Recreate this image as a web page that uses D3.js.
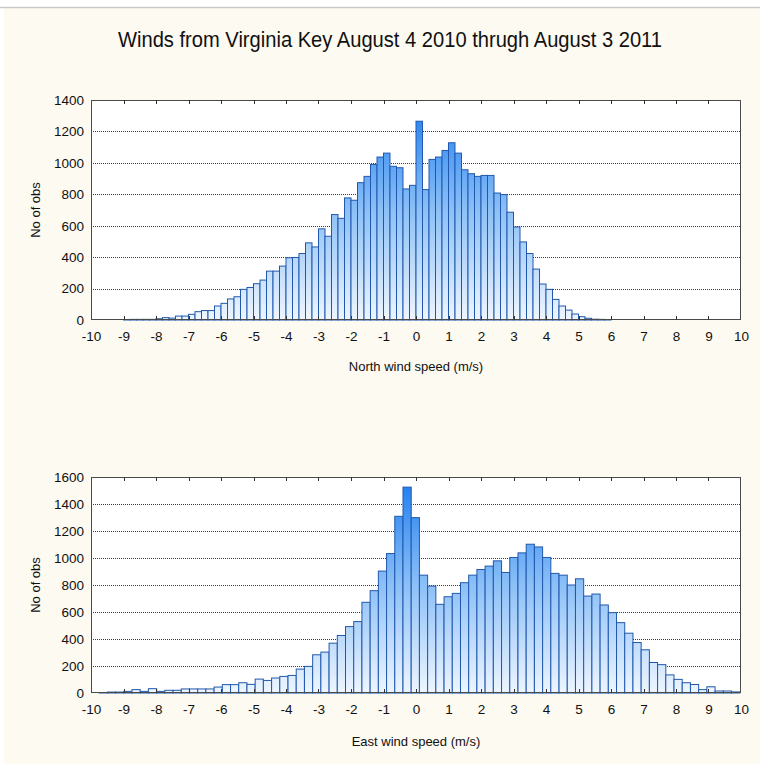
<!DOCTYPE html>
<html><head><meta charset="utf-8">
<script src="https://cdn.jsdelivr.net/npm/d3@7"></script>
<style>body{margin:0;background:#fff}svg{display:block}</style>
</head><body><svg id="c" width="760" height="764"></svg>
<script>
// ---------- DATA ----------
const titleText = "Winds from Virginia Key August 4 2010 thrugh August 3 2011";
const yLabel = "No of obs";
const northLabel = "North wind speed (m/s)";
const eastLabel = "East wind speed (m/s)";

// North: bins of 0.2 m/s starting at -9.0
const northStart = -9.0, northWidth = 0.2;
const northCounts = [
  1, 4, 4, 4, 4, 8, 15, 12, 25, 25,
  36, 53, 60, 60, 89, 106, 134, 148, 195, 207,
  231, 254, 311, 311, 343, 396, 398, 423, 491, 465,
  580, 533, 671, 647, 777, 762, 874, 914, 990, 1037,
  1062, 978, 969, 834, 857, 1265, 830, 1022, 1037, 1079,
  1128, 1062, 956, 931, 914, 920, 920, 808, 798, 686,
  592, 497, 423, 324, 229, 195, 131, 89, 63, 38,
  21, 11, 5, 4, 3
];

// East: bins of ~0.253 m/s starting at -9.75
const eastStart = -9.75, eastWidth = 0.2527;
const eastCounts = [
  2, 7, 7, 12, 25, 12, 32, 12, 20, 20,
  30, 30, 30, 30, 44, 62, 62, 76, 64, 103,
  93, 111, 123, 130, 177, 197, 283, 303, 369, 426,
  492, 529, 672, 758, 903, 1033, 1309, 1525, 1299, 873,
  792, 657, 713, 738, 817, 873, 915, 940, 979, 893,
  1004, 1038, 1102, 1082, 1004, 886, 873, 800, 846, 718,
  733, 652, 595, 521, 443, 374, 320, 226, 210, 134,
  101, 76, 63, 25, 46, 15, 15, 8
];

const xTickValues = [-10,-9,-8,-7,-6,-5,-4,-3,-2,-1,0,1,2,3,4,5,6,7,8,9,10];
const northYTicks = [0,200,400,600,800,1000,1200,1400];
const eastYTicks = [0,200,400,600,800,1000,1200,1400,1600];

// ---------- DRAW ----------
const svg = d3.select("#c");
const FONT = "'Liberation Sans', Arial, sans-serif";

svg.append("rect").attr("width",760).attr("height",764).attr("fill","#ffffff");
svg.append("rect").attr("x",4).attr("y",8).attr("width",756).attr("height",756).attr("fill","#fdfaf1");
svg.append("line").attr("x1",0).attr("x2",760).attr("y1",7.5).attr("y2",7.5)
   .attr("stroke","#c9c9c9").attr("stroke-width",1.5);

svg.append("text").attr("x",390).attr("y",47).attr("text-anchor","middle")
   .attr("font-family",FONT).attr("font-size",22).attr("fill","#111")
   .attr("textLength",544).attr("lengthAdjust","spacingAndGlyphs")
   .text(titleText);

const defs = svg.append("defs");

function panel(id, counts, start, width, yTicks, yMax, top, bottom, xLabelText, xLabelY) {
  const left = 91, right = 741;
  const x = d3.scaleLinear().domain([-10,10]).range([left,right]);
  const y = d3.scaleLinear().domain([0,yMax]).range([bottom,top]);
  const g = svg.append("g");

  const grad = defs.append("linearGradient").attr("id","grad"+id)
    .attr("gradientUnits","userSpaceOnUse")
    .attr("x1",0).attr("x2",0).attr("y1",bottom).attr("y2",top);
  grad.append("stop").attr("offset","0%").attr("stop-color","#eef6ff");
  grad.append("stop").attr("offset","50%").attr("stop-color","#8cc0f7");
  grad.append("stop").attr("offset","100%").attr("stop-color","#1b7cf0");

  g.append("rect").attr("x",left).attr("y",top).attr("width",right-left).attr("height",bottom-top)
    .attr("fill","#ffffff");

  // gridlines
  g.selectAll(".grid").data(yTicks.filter(v=>v>0 && v<yMax)).join("line")
    .attr("x1",left).attr("x2",right)
    .attr("y1",d=>Math.round(y(d))+0.5).attr("y2",d=>Math.round(y(d))+0.5)
    .attr("stroke","#3a3a3a").attr("stroke-width",1).attr("stroke-dasharray","1,1");

  // bars
  const bins = counts.map((c,i)=>({x0:start+i*width, x1:start+(i+1)*width, c}));
  g.selectAll(".bar").data(bins.filter(b=>b.c>0)).join("rect")
    .attr("x",d=>x(d.x0)).attr("width",d=>x(d.x1)-x(d.x0))
    .attr("y",d=>y(d.c)).attr("height",d=>y(0)-y(d.c))
    .attr("fill","url(#grad"+id+")")
    .attr("stroke","#2158ad").attr("stroke-width",1);

  // border
  g.append("rect").attr("x",left+0.5).attr("y",top+0.5).attr("width",right-left-1).attr("height",bottom-top-1)
    .attr("fill","none").attr("stroke","#4a4a4a").attr("stroke-width",1);

  // x axis ticks and labels
  const xAxis = d3.axisBottom(x).tickValues(xTickValues).tickSize(0).tickPadding(11)
    .tickFormat(d3.format("d"));
  const ax = g.append("g").attr("transform",`translate(0,${bottom})`).call(xAxis);
  ax.select(".domain").remove();
  ax.selectAll("text").attr("font-family",FONT).attr("font-size",13.5).attr("fill","#111")
    .text(d=>String(d));
  // inner tick marks bottom and top
  g.selectAll(".tb").data(xTickValues.slice(1,-1)).join("line")
    .attr("x1",d=>Math.round(x(d))+0.5).attr("x2",d=>Math.round(x(d))+0.5)
    .attr("y1",bottom).attr("y2",bottom-4).attr("stroke","#333");
  g.selectAll(".tt").data(xTickValues.slice(1,-1)).join("line")
    .attr("x1",d=>Math.round(x(d))+0.5).attr("x2",d=>Math.round(x(d))+0.5)
    .attr("y1",top).attr("y2",top+4).attr("stroke","#333");

  // y axis labels
  const yAxis = d3.axisLeft(y).tickValues(yTicks).tickSize(0).tickPadding(7).tickFormat(d3.format("d"));
  const ay = g.append("g").attr("transform",`translate(${left},0)`).call(yAxis);
  ay.select(".domain").remove();
  ay.selectAll("text").attr("font-family",FONT).attr("font-size",13.5).attr("fill","#111");

  // axis titles
  g.append("text").attr("x",(left+right)/2).attr("y",xLabelY).attr("text-anchor","middle")
    .attr("font-family",FONT).attr("font-size",13).attr("fill","#111").text(xLabelText);
  g.append("text").attr("transform",`translate(40,${(top+bottom)/2}) rotate(-90)`)
    .attr("text-anchor","middle")
    .attr("font-family",FONT).attr("font-size",13).attr("fill","#111").text(yLabel);
}

panel("N", northCounts, northStart, northWidth, northYTicks, 1400, 100, 320, northLabel, 371);
panel("E", eastCounts, eastStart, eastWidth, eastYTicks, 1600, 477, 693, eastLabel, 746);
</script></body></html>
